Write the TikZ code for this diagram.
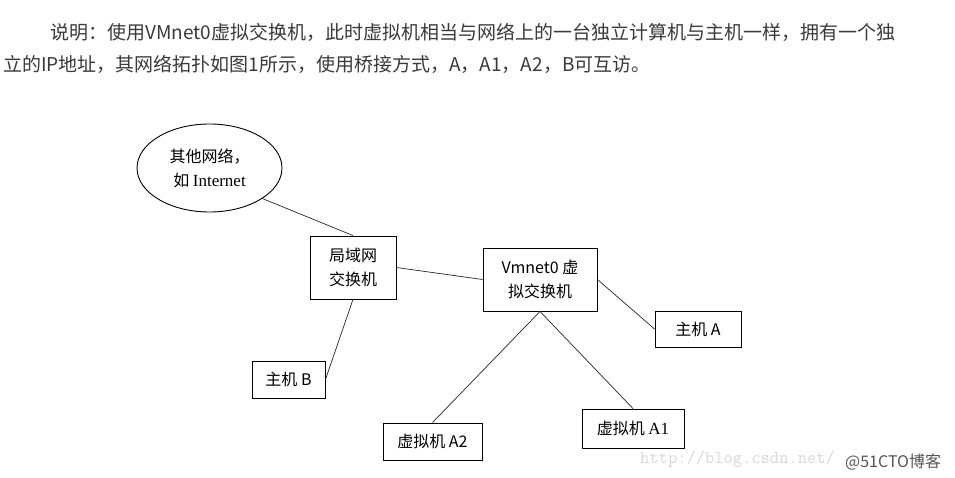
\documentclass[tikz,border=0pt]{standalone}
\usepackage{fontspec}
\setmainfont{Liberation Serif}
\newfontfamily\cjk{Noto Sans CJK SC}
\usetikzlibrary{shapes.geometric}
\definecolor{hdr}{HTML}{3A3A3A}
\definecolor{wm}{HTML}{D8D8D8}
\definecolor{wmb}{HTML}{555555}
\tikzset{
  hdrtext/.style={anchor=west,inner sep=0pt,text=hdr,font=\cjk\fontsize{19}{21}\selectfont},
  box/.style={draw=black,line width=0.9pt,inner sep=0pt,align=center,font=\cjk\fontsize{16}{24}\selectfont},
  link/.style={draw=black!85,line width=0.7pt}
}
\begin{document}
\begin{tikzpicture}[x=1pt,y=-1pt]
\useasboundingbox[fill=white] (0,0) rectangle (955,478);
\node[hdrtext] (h1) at (50,32) {说明：使用VMnet0虚拟交换机，此时虚拟机相当与网络上的一台独立计算机与主机一样，拥有一个独};
\node[hdrtext] (h2) at (3,64) {立的IP地址，其网络拓扑如图1所示，使用桥接方式，A，A1，A2，B可互访。};

\node[box,ellipse,minimum width=145pt,minimum height=88pt] (net) at (209.5,168) {其他网络，\\ 如 {\rmfamily\fontsize{17}{24}\selectfont Internet}};
\node[box,minimum width=86pt,minimum height=63pt] (lan) at (353,267.5) {局域网\\交换机};
\node[box,minimum width=114pt,minimum height=63pt] (vm) at (540,279.5) {Vmnet0 虚\\拟交换机};
\node[box,minimum width=86pt,minimum height=36pt] (ha) at (698,329) {主机 A};
\node[box,minimum width=73pt,minimum height=37pt] (hb) at (288.5,379.5) {主机 B};
\node[box,minimum width=99pt,minimum height=37pt] (a2) at (432.5,441.5) {虚拟机 A2};
\node[box,minimum width=102pt,minimum height=39pt] (a1) at (633,428.5) {虚拟机 {\rmfamily\fontsize{17}{24}\selectfont A1}};

\draw[link] (net.-30) -- (lan.north);
\draw[link] (lan.east) -- (vm.west);
\draw[link] (vm.east) -- (ha.west);
\draw[link] (lan.south) -- (hb.east);
\draw[link] (vm.south) -- (a2.north);
\draw[link] (vm.south) -- (a1.north);

\node[anchor=west,inner sep=0pt,text=wm,font=\ttfamily\fontsize{18}{19}\selectfont] (w1) at (640,459) {http://blog.csdn.net/};
\node[anchor=west,inner sep=0pt,text=wmb,font=\cjk\fontsize{16}{17}\selectfont] (w2) at (845,462) {@51CTO博客};
\end{tikzpicture}
\end{document}
